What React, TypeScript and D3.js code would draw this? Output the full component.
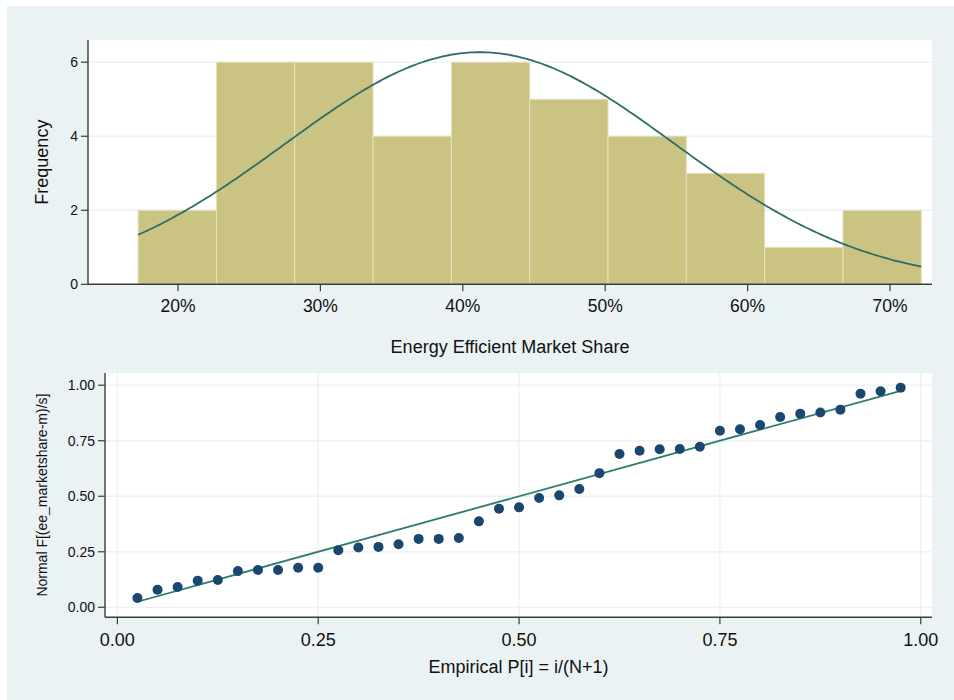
import React from 'react';
import * as d3 from 'd3';

// histogram: bin edges (share, 0-1) and frequencies
const binEdges = [0.172, 0.227, 0.282, 0.337, 0.392, 0.447, 0.502, 0.557, 0.612, 0.667, 0.722];
const binCounts = [2, 6, 6, 4, 6, 5, 4, 3, 1, 2];
const histXTicks = [0.2, 0.3, 0.4, 0.5, 0.6, 0.7];
const histYTicks = [0, 2, 4, 6];

// fitted normal (mean / sd of market share)
const normMean = 0.412;
const normSd = 0.1365;
const nObs = 39;

// normal probability plot
const empiricalP = [
  0.025, 0.05, 0.075, 0.1, 0.125, 0.15, 0.175, 0.2, 0.225, 0.25,
  0.275, 0.3, 0.325, 0.35, 0.375, 0.4, 0.425, 0.45, 0.475, 0.5,
  0.525, 0.55, 0.575, 0.6, 0.625, 0.65, 0.675, 0.7, 0.725, 0.75,
  0.775, 0.8, 0.825, 0.85, 0.875, 0.9, 0.925, 0.95, 0.975,
];
const normalF = [
  0.042, 0.079, 0.091, 0.12, 0.123, 0.163, 0.168, 0.168, 0.178, 0.178,
  0.257, 0.269, 0.272, 0.284, 0.308, 0.308, 0.312, 0.387, 0.444, 0.45,
  0.492, 0.504, 0.533, 0.604, 0.69, 0.705, 0.712, 0.713, 0.723, 0.795,
  0.802, 0.821, 0.857, 0.872, 0.877, 0.89, 0.962, 0.973, 0.989,
];
const ppTicks = [0, 0.25, 0.5, 0.75, 1];

const BG = '#eaf2f3';
const AXIS = '#3c3c3c';
const FONT = '"Liberation Sans", Arial, sans-serif';

const App = () => {
  // top panel
  const hx = d3.scaleLinear().domain([0.1368, 0.7295]).range([88, 932]);
  const hy = d3.scaleLinear().domain([0, 6.6]).range([284.3, 40]);
  const binW = binEdges[1] - binEdges[0];
  const pdf = (x: number) =>
    Math.exp(-0.5 * ((x - normMean) / normSd) ** 2) / (normSd * Math.sqrt(2 * Math.PI));
  const curveX = d3.range(binEdges[0], binEdges[binEdges.length - 1] + 1e-9, 0.002);
  const curve = d3.line<number>()
    .x(d => hx(d))
    .y(d => hy(nObs * binW * pdf(d)));

  // bottom panel
  const px = d3.scaleLinear().domain([-0.0154, 1.014]).range([105, 932]);
  const py = d3.scaleLinear().domain([-0.0446, 1.055]).range([617.2, 373]);
  const first = empiricalP[0];
  const last = empiricalP[empiricalP.length - 1];

  const [hx0, hx1] = hx.range();
  const [hy0, hy1] = hy.range();
  const [px0, px1] = px.range();
  const [py0, py1] = py.range();

  return (
    <svg width={954} height={700} style={{ position: 'absolute', left: 0, top: 0 }} fontFamily={FONT}>
      <rect x={0} y={0} width={954} height={700} fill="#ffffff" />
      <rect x={7} y={6} width={947} height={694} fill={BG} />

      {/* histogram */}
      <rect x={hx0} y={hy1} width={hx1 - hx0} height={hy0 - hy1} fill="#ffffff" />
      {histYTicks.filter(t => t > 0).map(t => (
        <line key={t} x1={hx0} x2={hx1} y1={hy(t)} y2={hy(t)} stroke={BG} strokeWidth={1.3} />
      ))}
      {binCounts.map((c, i) => (
        <rect
          key={i}
          x={hx(binEdges[i])}
          y={hy(c)}
          width={hx(binEdges[i + 1]) - hx(binEdges[i])}
          height={hy(0) - hy(c)}
          fill="#cbc382"
          stroke="#e6e1bd"
          strokeWidth={1}
        />
      ))}
      <path d={curve(curveX) || ''} fill="none" stroke="#2b6e68" strokeWidth={1.8} />
      <line x1={hx0} x2={hx0} y1={hy1} y2={hy0} stroke={AXIS} strokeWidth={1.4} />
      <line x1={hx0} x2={hx1} y1={hy0} y2={hy0} stroke={AXIS} strokeWidth={1.4} />
      {histYTicks.map(t => (
        <g key={t}>
          <line x1={hx0 - 7} x2={hx0} y1={hy(t)} y2={hy(t)} stroke={AXIS} strokeWidth={1.2} />
          <text x={hx0 - 10} y={hy(t)} dy="0.35em" textAnchor="end" fontSize={14} fill="#111">{t}</text>
        </g>
      ))}
      {histXTicks.map(t => (
        <g key={t}>
          <line x1={hx(t)} x2={hx(t)} y1={hy0} y2={hy0 + 7} stroke={AXIS} strokeWidth={1.2} />
          <text x={hx(t)} y={312} textAnchor="middle" fontSize={17.5} fill="#111">{d3.format('.0%')(t)}</text>
        </g>
      ))}
      <text transform={`translate(48,${(hy0 + hy1) / 2}) rotate(-90)`} textAnchor="middle" fontSize={18} fill="#111">Frequency</text>
      <text x={(hx0 + hx1) / 2} y={353} textAnchor="middle" fontSize={18} fill="#111">Energy Efficient Market Share</text>

      {/* normal probability plot */}
      <rect x={px0} y={py1} width={px1 - px0} height={py0 - py1} fill="#ffffff" />
      {ppTicks.map(t => (
        <g key={t}>
          <line x1={px0} x2={px1} y1={py(t)} y2={py(t)} stroke={BG} strokeWidth={1.3} />
          <line x1={px(t)} x2={px(t)} y1={py0} y2={py1} stroke={BG} strokeWidth={1.3} />
        </g>
      ))}
      <line x1={px(first)} y1={py(first)} x2={px(last)} y2={py(last)} stroke="#2e7d69" strokeWidth={1.8} />
      {empiricalP.map((p, i) => (
        <circle key={i} cx={px(p)} cy={py(normalF[i])} r={5} fill="#1a476f" />
      ))}
      <line x1={px0} x2={px0} y1={py1} y2={py0} stroke={AXIS} strokeWidth={1.4} />
      <line x1={px0} x2={px1} y1={py0} y2={py0} stroke={AXIS} strokeWidth={1.4} />
      {ppTicks.map(t => (
        <g key={t}>
          <line x1={px0 - 7} x2={px0} y1={py(t)} y2={py(t)} stroke={AXIS} strokeWidth={1.2} />
          <text x={px0 - 10} y={py(t)} dy="0.35em" textAnchor="end" fontSize={14} fill="#111">{d3.format('.2f')(t)}</text>
          <line x1={px(t)} x2={px(t)} y1={py0} y2={py0 + 7} stroke={AXIS} strokeWidth={1.2} />
          <text x={px(t)} y={646} textAnchor="middle" fontSize={18} fill="#111">{d3.format('.2f')(t)}</text>
        </g>
      ))}
      <text transform={`translate(47,${(py0 + py1) / 2}) rotate(-90)`} textAnchor="middle" fontSize={14} fill="#111">Normal F[(ee_marketshare-m)/s]</text>
      <text x={(px0 + px1) / 2} y={673} textAnchor="middle" fontSize={18} fill="#111">Empirical P[i] = i/(N+1)</text>
    </svg>
  );
};

export default App;
